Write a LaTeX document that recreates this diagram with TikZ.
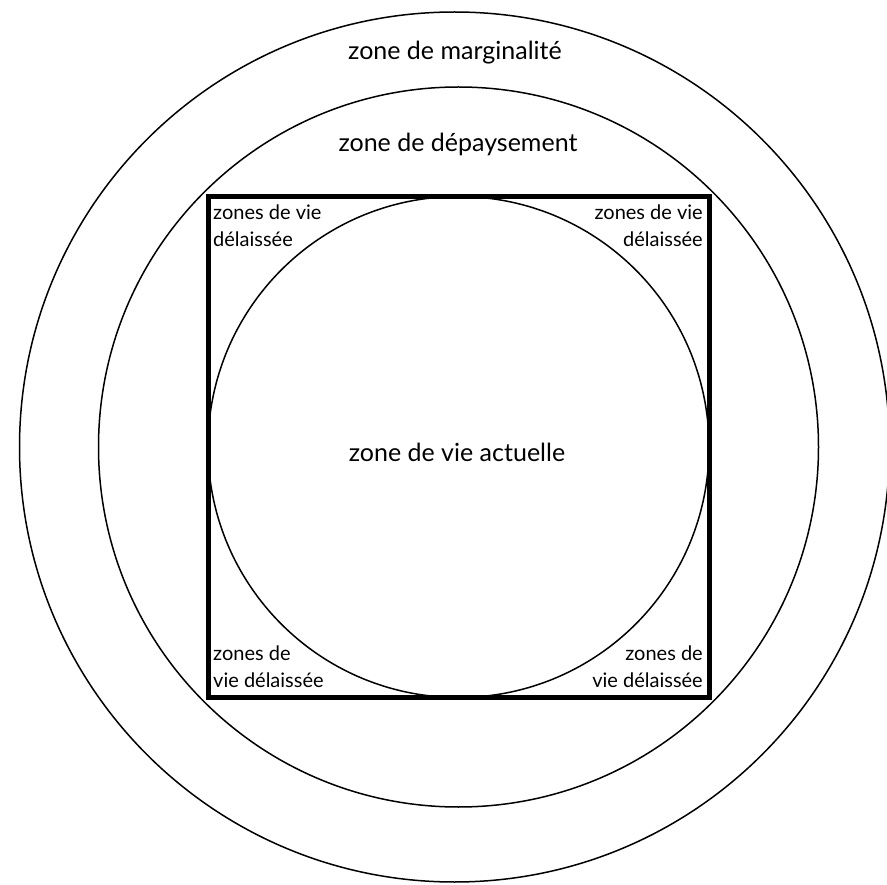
\documentclass[tikz,border=0pt]{standalone}
\usepackage{fontspec}
\setmainfont{Lato}
\begin{document}
\begin{tikzpicture}[x=1pt,y=-1pt,
  ring/.style={draw=black,line width=1.5pt},
  frame/.style={draw=black,line width=5pt},
  bigtext/.style={font=\fontsize{25}{29}\selectfont,inner sep=0pt,anchor=base},
  cornerL/.style={font=\fontsize{20}{23}\selectfont,inner sep=0pt,anchor=base west},
  cornerR/.style={font=\fontsize{20}{23}\selectfont,inner sep=0pt,anchor=base east}]
\useasboundingbox (0,0) rectangle (887,885);
\fill[white] (0,0) rectangle (887,885);
\draw[ring] (454.5,447) circle[radius=435];
\draw[ring] (458.5,447) circle[radius=360];
\draw[ring] (458.5,447) circle[radius=250.5];
\draw[frame] (208,197) rectangle (709,697);
\node[bigtext] (marg) at (455,60) {zone de marginalité};
\node[bigtext] (depay) at (458,152) {zone de dépaysement};
\node[bigtext] (actu) at (457,461) {zone de vie actuelle};
\node[cornerL] (tl1) at (213,220) {zones de vie};
\node[cornerL] (tl2) at (213,247) {délaissée};
\node[cornerR] (tr1) at (703,220) {zones de vie};
\node[cornerR] (tr2) at (703,247) {délaissée};
\node[cornerL] (bl1) at (213,660) {zones de};
\node[cornerL] (bl2) at (213,687) {vie délaissée};
\node[cornerR] (br1) at (703,660) {zones de};
\node[cornerR] (br2) at (703,687) {vie délaissée};
\end{tikzpicture}
\end{document}
